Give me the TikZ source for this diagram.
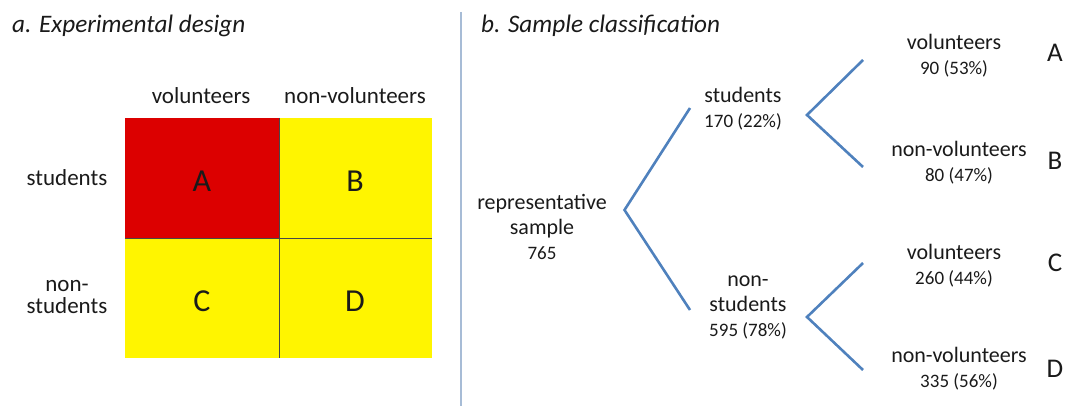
\documentclass[tikz,border=0pt]{standalone}
\usepackage{fontspec}
\setmainfont{Carlito}
\definecolor{txt}{HTML}{1A1A1A}
\definecolor{cellred}{HTML}{DC0000}
\definecolor{cellyellow}{HTML}{FFF500}
\definecolor{gridgray}{HTML}{484848}
\definecolor{branchblue}{HTML}{4F81BD}
\definecolor{sepblue}{HTML}{A7BCD6}
\newcommand\numtxt[1]{{\fontsize{19}{25}\selectfont #1}}
\begin{document}
\begin{tikzpicture}[x=1pt,y=-1pt,
  every node/.style={text=txt, inner sep=0pt},
  title/.style={font=\fontsize{25.2}{28}\selectfont\itshape, text=txt, anchor=base west},
  lbl/.style={font=\fontsize{23}{22}\selectfont, align=center},
  tlbl/.style={font=\fontsize{22}{25}\selectfont, align=center},
  cell/.style={minimum height=120pt, draw=none},
  bigletter/.style={font=\fontsize{32}{36}\selectfont},
  treeletter/.style={font=\fontsize{27}{30}\selectfont},
  gridline/.style={draw=gridgray, line width=1pt},
  branch/.style={draw=branchblue, line width=2.6pt, line join=miter},
  sepline/.style={draw=sepblue, line width=1.5pt}
]
\useasboundingbox (0,0) rectangle (1065,406);
% titles
\node[title] (ta) at (12,33) {a. Experimental design};
\node[title] (tb) at (481,33) {b. Sample classification};
% separator
\coordinate (sepT) at (461,12);
\coordinate (sepB) at (461,406);
\draw[sepline] (sepT) -- (sepB);
% grid
\node[cell, fill=cellred, minimum width=154pt] (cA) at (202,178) {};
\node[cell, fill=cellyellow, minimum width=153pt] (cB) at (355.5,178) {};
\node[cell, fill=cellyellow, minimum width=154pt] (cC) at (202,298) {};
\node[cell, fill=cellyellow, minimum width=153pt] (cD) at (355.5,298) {};
\draw[gridline] (cA.south west) -- (cB.south east);
\draw[gridline] (cA.north east) -- (cC.south east);
\node[bigletter] (lA) at (202,181) {A};
\node[bigletter] (lB) at (355,181) {B};
\node[bigletter] (lC) at (202,301) {C};
\node[bigletter] (lD) at (355,301) {D};
% headers
\node[lbl] (hv) at (201,96) {volunteers};
\node[lbl] (hnv) at (355,96) {non-volunteers};
\node[lbl] (rs) at (67,178) {students};
\node[lbl] (rns) at (67,297) {non-\\students};
% tree
\node[tlbl] (root) at (542,227) {representative\\sample\\\numtxt{765}};
\node[tlbl] (stu) at (743,109) {students\\\numtxt{170 (22\%)}};
\node[tlbl] (nstu) at (748,307) {non-\\students\\\numtxt{595 (78\%)}};
\node[tlbl] (v1) at (954,56) {volunteers\\\numtxt{90 (53\%)}};
\node[tlbl] (nv1) at (959,163) {non-volunteers\\\numtxt{80 (47\%)}};
\node[tlbl] (v2) at (954,266) {volunteers\\\numtxt{260 (44\%)}};
\node[tlbl] (nv2) at (959,369) {non-volunteers\\\numtxt{335 (56\%)}};
\node[treeletter] (tA) at (1055,53) {A};
\node[treeletter] (tB) at (1055,161) {B};
\node[treeletter] (tC) at (1055,263) {C};
\node[treeletter] (tD) at (1055,369) {D};
% branches
\coordinate (rv) at (624.5,210);
\coordinate (rvu) at (690,108);
\coordinate (rvl) at (690,310);
\coordinate (sv) at (807,115);
\coordinate (svu) at (863,60);
\coordinate (svl) at (863,167);
\coordinate (nv) at (807,317);
\coordinate (nvu) at (863,263);
\coordinate (nvl) at (863,370);
\draw[branch] (rvu) -- (rv) -- (rvl);
\draw[branch] (svu) -- (sv) -- (svl);
\draw[branch] (nvu) -- (nv) -- (nvl);
\end{tikzpicture}
\end{document}
